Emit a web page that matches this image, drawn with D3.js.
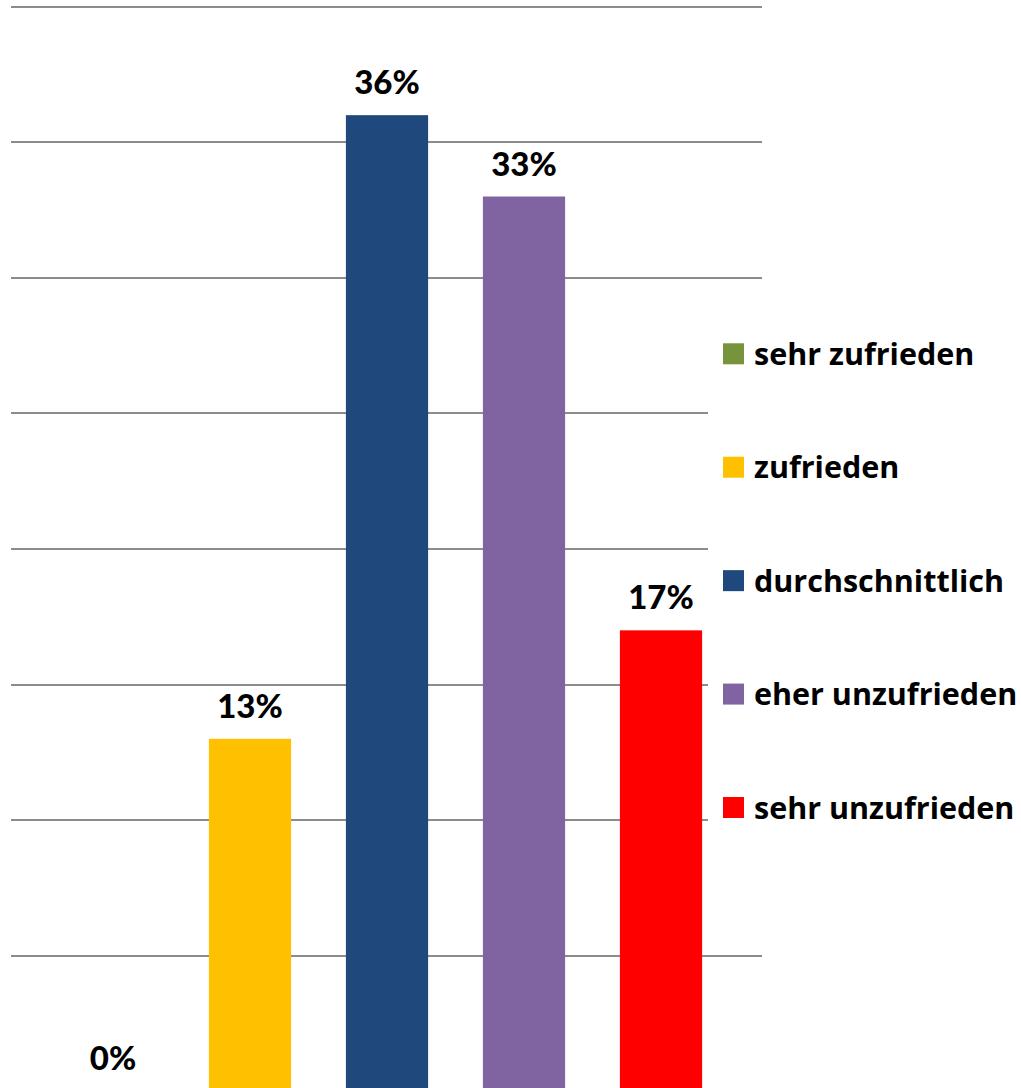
<!DOCTYPE html>
<html><head><meta charset="utf-8">
<script src="https://cdn.jsdelivr.net/npm/d3@7"></script>
<style>html,body{margin:0;padding:0;background:#fff;overflow:hidden}</style>
</head><body>
<svg id="c" width="1021" height="1088"></svg>
<script>
const categories = ["sehr zufrieden", "zufrieden", "durchschnittlich", "eher unzufrieden", "sehr unzufrieden"];
const values = [0, 13, 36, 33, 17];
const labels = ["0%", "13%", "36%", "33%", "17%"];
const colors = ["#77933C", "#FFC000", "#1F497D", "#8064A2", "#FF0000"];
const gridTicks = [0, 5, 10, 15, 20, 25, 30, 35, 40];

const svg = d3.select("#c");
const font = "Lato, 'Open Sans', sans-serif";
const legendFont = "'Open Sans', Lato, sans-serif";

const y = d3.scaleLinear().domain([0, 40]).range([1091.3, 6.7]);
const x = d3.scaleBand().domain(categories).range([44.5, 729.5]).paddingInner(0.4).paddingOuter(0.2);

// gridlines
svg.append("g").selectAll("line").data(gridTicks.filter(d => d > 0)).join("line")
  .attr("x1", 11).attr("x2", 762)
  .attr("y1", d => Math.round(y(d))).attr("y2", d => Math.round(y(d)))
  .attr("stroke", "#8c8c8c").attr("stroke-width", 2);

// bars
svg.append("g").selectAll("rect").data(categories).join("rect")
  .attr("x", d => x(d)).attr("width", x.bandwidth())
  .attr("y", (d, i) => y(values[i]))
  .attr("height", (d, i) => y(0) - y(values[i]))
  .attr("fill", (d, i) => colors[i]);

// value labels
svg.append("g").selectAll("text").data(categories).join("text")
  .attr("x", d => x(d) + x.bandwidth() / 2)
  .attr("y", (d, i) => y(values[i]) - 21)
  .attr("text-anchor", "middle")
  .attr("font-family", font).attr("font-weight", 900).attr("font-size", 33)
  .attr("fill", "#000")
  .text((d, i) => labels[i]);

// legend
const lg = svg.append("g");
lg.append("rect").attr("x", 708).attr("y", 290).attr("width", 313).attr("height", 580).attr("fill", "#fff");
const ly = d3.scaleLinear().domain([0, 4]).range([353.8, 807.5]);
const items = lg.selectAll("g").data(categories).join("g")
  .attr("transform", (d, i) => `translate(723,${ly(i)})`);
items.append("rect").attr("x", 0).attr("y", -10.5).attr("width", 21).attr("height", 21)
  .attr("fill", (d, i) => colors[i]);
items.append("text").attr("x", 31).attr("y", 11)
  .attr("font-family", legendFont).attr("font-weight", "bold").attr("font-size", 30.5)
  .attr("fill", "#000").text(d => d);
</script>
</body></html>
